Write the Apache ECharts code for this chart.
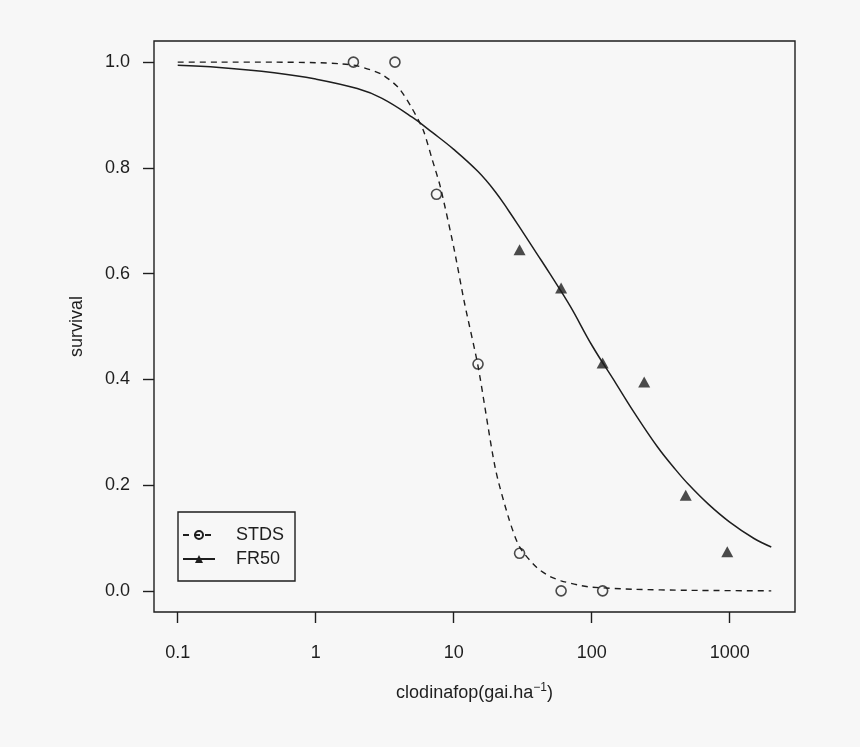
<!DOCTYPE html>
<html>
<head>
<meta charset="utf-8">
<script src="https://cdn.jsdelivr.net/npm/echarts@6/dist/echarts.min.js"></script>
<style>
  html, body { margin: 0; padding: 0; background: #f7f7f7; }
  #chart { width: 860px; height: 747px; }
</style>
</head>
<body>
<div id="chart"></div>
<script>
// observed points
const stdsDose = [1.875, 3.75, 7.5, 15, 30, 60, 120];
const stdsSurvival = [1, 1, 0.75, 0.429, 0.071, 0, 0];
const fr50Dose = [30, 60, 120, 240, 480, 960];
const fr50Survival = [0.645, 0.573, 0.431, 0.395, 0.181, 0.074];

// fitted curves
const stdsCurveDose = [0.1, 0.2, 0.5, 1, 1.5, 2, 3, 4, 5, 6, 7, 8, 10, 12, 15, 20, 25, 30, 40, 50, 60, 80, 100, 200, 500, 2000];
const stdsCurveSurvival = [1.0, 1.0, 1.0, 0.999, 0.997, 0.993, 0.977, 0.951, 0.912, 0.872, 0.815, 0.764, 0.650, 0.543, 0.425, 0.232, 0.138, 0.083, 0.044, 0.027, 0.019, 0.011, 0.007, 0.003, 0.001, 0.0];
const fr50CurveDose = [0.1, 0.2, 0.5, 1, 2, 3, 5, 7, 10, 15, 20, 25, 30, 40, 50, 70, 100, 150, 200, 300, 400, 500, 700, 1000, 1500, 2000];
const fr50CurveSurvival = [0.994, 0.990, 0.980, 0.968, 0.950, 0.932, 0.896, 0.867, 0.835, 0.793, 0.755, 0.719, 0.688, 0.638, 0.599, 0.538, 0.465, 0.392, 0.340, 0.272, 0.231, 0.202, 0.164, 0.130, 0.099, 0.083];

const xTicks = [0.1, 1, 10, 100, 1000];
const yTicks = [0, 0.2, 0.4, 0.6, 0.8, 1.0];

const INK = "#1e1e1e";
const FONT = "'Liberation Sans', Arial, sans-serif";
const FS = 18;

const zip = (xs, ys) => xs.map((x, i) => [x, ys[i]]);

const chart = echarts.init(document.getElementById("chart"), null, { renderer: "canvas" });
chart.setOption({
  backgroundColor: "#f7f7f7",
  animation: false,
  textStyle: { fontFamily: FONT, color: INK },
  grid: {
    left: 154, right: 65, top: 41, bottom: 135,
    show: true, borderColor: INK, borderWidth: 1.4, backgroundColor: "transparent"
  },
  legend: {
    orient: "vertical",
    left: 178, top: 512,
    data: ["STDS", "FR50"],
    borderColor: INK, borderWidth: 1.4, borderRadius: 0,
    padding: [14, 11, 13, 4],
    itemWidth: 32, itemHeight: 10, itemGap: 6,
    textStyle: { fontFamily: FONT, fontSize: FS, color: INK, padding: [0, 0, 0, 16] }
  },
  xAxis: {
    type: "log",
    min: 0.0673, max: 2972,
    name: "{a|clodinafop(gai.ha}{s|−1}{a|)}",
    nameLocation: "middle",
    nameGap: 70,
    nameTextStyle: {
      rich: {
        a: { fontFamily: FONT, fontSize: FS, color: INK, lineHeight: 22 },
        s: { fontFamily: FONT, fontSize: 12, color: INK, verticalAlign: "top", lineHeight: 12 }
      }
    },
    axisLine: { show: false, onZero: false },
    axisTick: { show: true, length: 11, customValues: xTicks, lineStyle: { color: INK, width: 1.4 } },
    axisLabel: {
      customValues: xTicks, margin: 32, fontSize: FS, color: INK, fontFamily: FONT,
      formatter: v => String(v)
    },
    splitLine: { show: false },
    minorTick: { show: false }
  },
  yAxis: {
    type: "value",
    min: -0.04, max: 1.04,
    name: "survival",
    nameLocation: "middle",
    nameGap: 68,
    nameTextStyle: { fontFamily: FONT, fontSize: FS, color: INK },
    axisLine: { show: false, onZero: false },
    axisTick: { show: true, length: 11, customValues: yTicks, lineStyle: { color: INK, width: 1.4 } },
    axisLabel: {
      customValues: yTicks, margin: 24, fontSize: FS, color: INK, fontFamily: FONT,
      formatter: v => v.toFixed(1)
    },
    splitLine: { show: false }
  },
  series: [
    {
      name: "STDS", type: "line", data: zip(stdsCurveDose, stdsCurveSurvival),
      smooth: 0.25, showSymbol: false,
      symbol: "circle", symbolSize: 9,
      itemStyle: { color: "transparent", borderColor: INK, borderWidth: 1.5 },
      lineStyle: { color: INK, width: 1.4, type: [6, 5] },
      emphasis: { disabled: true }, silent: true
    },
    {
      name: "FR50", type: "line", data: zip(fr50CurveDose, fr50CurveSurvival),
      smooth: 0.4, showSymbol: false,
      symbol: "triangle", symbolSize: [12, 10],
      itemStyle: { color: INK },
      lineStyle: { color: INK, width: 1.5 },
      emphasis: { disabled: true }, silent: true
    },
    {
      name: "STDS", type: "scatter", data: zip(stdsDose, stdsSurvival),
      symbol: "circle", symbolSize: 10,
      itemStyle: { color: "transparent", borderColor: INK, borderWidth: 1.6 },
      emphasis: { disabled: true }, silent: true
    },
    {
      name: "FR50", type: "scatter", data: zip(fr50Dose, fr50Survival),
      symbol: "triangle", symbolSize: [12, 11],
      itemStyle: { color: INK },
      emphasis: { disabled: true }, silent: true
    }
  ]
});
</script>
</body>
</html>
